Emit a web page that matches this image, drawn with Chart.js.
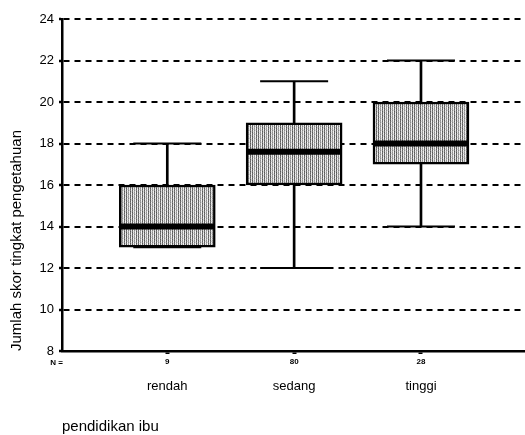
<!DOCTYPE html>
<html>
<head>
<meta charset="utf-8">
<script src="https://cdn.jsdelivr.net/npm/chart.js@4"></script>
<style>
  html, body { margin: 0; padding: 0; background: #fff; }
  #wrap { width: 525px; height: 435px; }
</style>
</head>
<body>
<div id="wrap"><canvas id="c" width="525" height="435"></canvas></div>
<script>
// ---- data ----
const categories = ['rendah', 'sedang', 'tinggi'];
const nCounts = ['9', '80', '28'];
const positions = [1, 2, 3];
const mins = [13, 12, 14];
const q1s = [13, 16, 17];
const medians = [14, 17.6, 18];
const q3s = [16, 19, 20];
const maxs = [18, 21, 22];
const yTickValues = [8, 10, 12, 14, 16, 18, 20, 22, 24];
const yTitle = 'Jumlah skor tingkat pengetahuan';
const xTitle = 'pendidikan ibu';
const nLabel = 'N =';

// ---- stipple pattern for boxes (texture only) ----
function makePattern() {
  const g = [
    [0x58, 0xe8, 0x90, 0xf4, 0x70, 0xe0],
    [0x70, 0xd0, 0xa0, 0xe8, 0x60, 0xf4],
    [0x60, 0xf4, 0x88, 0xd8, 0x80, 0xe8],
    [0x78, 0xe0, 0xa8, 0xf4, 0x58, 0xd8]
  ];
  const pc = document.createElement('canvas');
  pc.width = 6; pc.height = 4;
  const p = pc.getContext('2d');
  for (let r = 0; r < 4; r++) for (let c = 0; c < 6; c++) {
    const v = g[r][c];
    p.fillStyle = 'rgb(' + v + ',' + v + ',' + v + ')';
    p.fillRect(c, r, 1, 1);
  }
  return document.getElementById('c').getContext('2d').createPattern(pc, 'repeat');
}
const pattern = makePattern();

const FONT = "'Liberation Sans', Arial, sans-serif";
const xMin = 0.17, xMax = 3.82;

const nLabelPlugin = {
  id: 'nLabel',
  afterDraw(chart) {
    const ctx = chart.ctx;
    const xs = chart.scales.x;
    ctx.save();
    ctx.font = 'bold 8px ' + FONT;
    ctx.fillStyle = '#000';
    ctx.textAlign = 'right';
    ctx.textBaseline = 'middle';
    ctx.fillText(nLabel, xs.left + 1, 363);
    ctx.restore();
  }
};

new Chart(document.getElementById('c'), {
  type: 'bar',
  data: {
    datasets: [
      {
        label: 'whisker',
        data: positions.map((p, i) => ({ x: p, y: [mins[i], maxs[i]] })),
        backgroundColor: '#000',
        borderWidth: 0,
        barThickness: 2,
        grouped: false,
        order: 4
      },
      {
        label: 'box',
        data: positions.map((p, i) => ({ x: p, y: [q1s[i], q3s[i]] })),
        backgroundColor: pattern,
        borderColor: '#000',
        borderWidth: 2.5,
        borderSkipped: false,
        barThickness: 96,
        grouped: false,
        order: 3
      },
      {
        type: 'scatter',
        label: 'median',
        data: positions.map((p, i) => ({ x: p, y: medians[i] })),
        pointStyle: 'line',
        radius: 47.5,
        borderColor: '#000',
        borderWidth: 6,
        order: 1
      },
      {
        type: 'scatter',
        label: 'capMax',
        data: positions.map((p, i) => ({ x: p, y: maxs[i] })),
        pointStyle: 'line',
        radius: 34,
        borderColor: '#000',
        borderWidth: 2,
        order: 1
      },
      {
        type: 'scatter',
        label: 'capMin',
        data: positions.map((p, i) => ({ x: p, y: mins[i] })),
        pointStyle: 'line',
        radius: 34,
        borderColor: '#000',
        borderWidth: 2,
        order: 2
      }
    ]
  },
  options: {
    responsive: false,
    animation: false,
    devicePixelRatio: 1,
    layout: { autoPadding: false, padding: { top: 19, right: 0, left: 0, bottom: 0 } },
    plugins: { legend: { display: false }, tooltip: { enabled: false } },
    scales: {
      x: {
        type: 'linear',
        position: 'bottom',
        weight: 0,
        offset: false,
        min: xMin, max: xMax,
        afterBuildTicks: (s) => { s.ticks = positions.map(v => ({ value: v })); },
        afterFit: (s) => { s.height = 22; },
        ticks: {
          autoSkip: false, maxRotation: 0, padding: 3,
          color: '#000',
          font: { family: FONT, size: 8, weight: 'bold' },
          callback: (v, i) => nCounts[i]
        },
        grid: { display: true, offset: false, drawOnChartArea: false, color: '#000', tickLength: 3, tickWidth: 4 },
        border: { display: true, color: '#000', width: 2.5 }
      },
      x2: {
        type: 'linear',
        position: 'bottom',
        weight: 1,
        offset: false,
        min: xMin, max: xMax,
        afterBuildTicks: (s) => { s.ticks = positions.map(v => ({ value: v })); },
        afterFit: (s) => { s.height = 62; },
        ticks: {
          autoSkip: false, maxRotation: 0, padding: -2,
          color: '#000',
          font: { family: FONT, size: 13 },
          callback: (v, i) => categories[i]
        },
        grid: { display: false, offset: false },
        border: { display: false },
        title: {
          display: true, text: xTitle, align: 'start', color: '#000',
          font: { family: FONT, size: 15 },
          padding: { top: 0, bottom: -1 }
        }
      },
      y: {
        type: 'linear',
        position: 'left',
        min: 8, max: 24,
        afterBuildTicks: (s) => { s.ticks = yTickValues.map(v => ({ value: v })); },
        afterFit: (s) => { s.width = 62; },
        ticks: {
          padding: 5, color: '#000',
          font: { family: FONT, size: 13 }
        },
        grid: { color: '#000', lineWidth: 2, tickLength: 3, tickWidth: 2.5 },
        border: { display: true, color: '#000', width: 2.5, dash: [6, 5] },
        title: {
          display: true, text: yTitle, align: 'start', color: '#000',
          font: { family: FONT, size: 15 },
          padding: { top: 8, bottom: 0 }
        }
      }
    }
  },
  plugins: [nLabelPlugin]
});
</script>
</body>
</html>
